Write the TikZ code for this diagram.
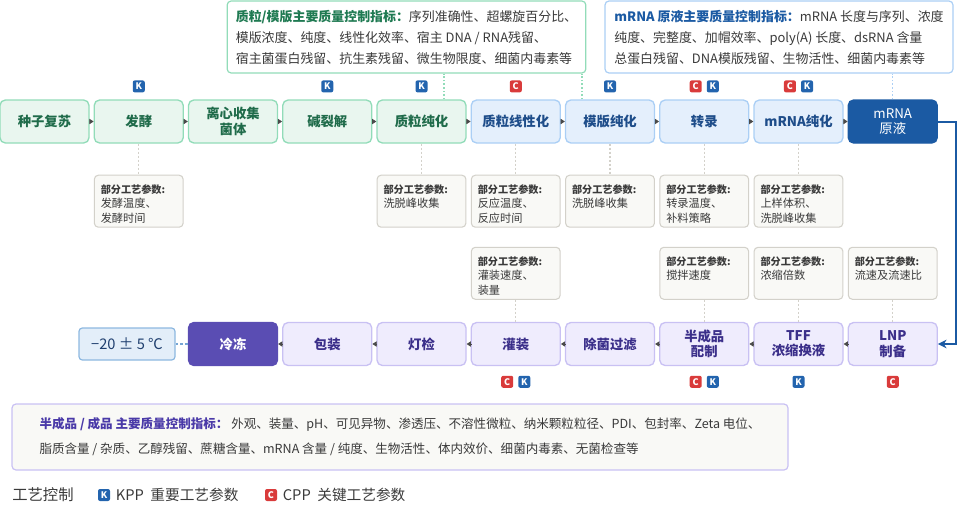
\documentclass[tikz,border=0pt]{standalone}
\usepackage{fontspec}
\setmainfont{Noto Sans CJK SC}
\usetikzlibrary{arrows.meta, positioning}
\definecolor{grnfill}{HTML}{E9F6EF}
\definecolor{grnline}{HTML}{92DCB9}
\definecolor{grntext}{HTML}{1F6B4A}
\definecolor{grntitle}{HTML}{1F7A52}
\definecolor{blufill}{HTML}{E4EFFC}
\definecolor{bluline}{HTML}{ABCFF5}
\definecolor{blutext}{HTML}{1E4D8A}
\definecolor{darkblu}{HTML}{1B5AA3}
\definecolor{purfill}{HTML}{EFECFD}
\definecolor{purline}{HTML}{C9C1F3}
\definecolor{purtext}{HTML}{3B2F8A}
\definecolor{purtitle}{HTML}{4A3AA8}
\definecolor{darkpur}{HTML}{5A4DB3}
\definecolor{parfill}{HTML}{F9F9F6}
\definecolor{parline}{HTML}{D3D1CA}
\definecolor{bodygray}{HTML}{3A3A3A}
\definecolor{arrgray}{HTML}{4A4A4A}
\definecolor{kblue}{HTML}{2364AE}
\definecolor{cred}{HTML}{D93B3B}
\definecolor{tempfill}{HTML}{E3EEF9}
\definecolor{templine}{HTML}{8DB8E0}
\definecolor{temptext}{HTML}{1F3F6F}
\newcommand\paramtext[1]{\parbox[c][37pt][t]{57pt}{\rule{0pt}{12.5pt}\textbf{\fontsize{7.6}{10.9}\selectfont 部分工艺参数:}\\#1}}

\begin{document}
\begin{tikzpicture}[x=0.75pt, y=-0.75pt,
  proc/.style={rounded corners=4pt, line width=1pt, minimum width=66.75pt,
    minimum height=32.25pt, align=center, inner sep=1pt,
    font=\bfseries\fontsize{10}{11.5}\selectfont},
  grn/.style={proc, fill=grnfill, draw=grnline, text=grntext},
  blu/.style={proc, fill=blufill, draw=bluline, text=blutext},
  pur/.style={proc, fill=purfill, draw=purline, text=purtext},
  param/.style={rounded corners=3pt, fill=parfill, draw=parline, line width=0.8pt,
    inner xsep=4.8pt, inner ysep=1pt, text=bodygray, font=\fontsize{8.4}{10.9}\selectfont},
  spec/.style={rounded corners=3pt, line width=0.9pt, align=left, text=bodygray,
    font=\fontsize{9.7}{15.75}\selectfont},
  badge/.style={rounded corners=1.5pt, minimum size=9pt, inner sep=0pt, text=white,
    font=\bfseries\fontsize{6.8}{6.8}\selectfont},
  kb/.style={badge, fill=kblue},
  cb/.style={badge, fill=cred},
  flow/.style={-{Triangle[length=3.2pt,width=4pt]}, draw=arrgray, line width=0.6pt},
  link/.style={-{Stealth[length=6.5pt,width=6.5pt]}, draw=darkblu, line width=1.5pt},
  dotgrn/.style={draw=grnline, line width=0.9pt, dash pattern=on 1.2pt off 1.5pt},
  dotblu/.style={draw=bluline, line width=0.9pt, dash pattern=on 1.2pt off 1.5pt},
  dotgray/.style={draw=parline, line width=0.8pt, dash pattern=on 1.5pt off 1.5pt}
]
\useasboundingbox (0,0) rectangle (960,504);

% quality specs
\node[spec, fill=white, draw=grnline, minimum width=269pt, minimum height=54pt] (specP) at (406.5,37)
  {\textcolor{grntitle}{\textbf{质粒/模版主要质量控制指标：}}序列准确性、超螺旋百分比、\\
   模版浓度、纯度、线性化效率、宿主 DNA / RNA残留、\\
   宿主菌蛋白残留、抗生素残留、微生物限度、细菌内毒素等};
\node[spec, fill=white, draw=bluline, minimum width=261pt, minimum height=54pt] (specM) at (779,37)
  {\textcolor{darkblu}{\textbf{mRNA 原液主要质量控制指标：}}mRNA 长度与序列、浓度\\
   纯度、完整度、加帽效率、poly(A) 长度、dsRNA 含量\\
   总蛋白残留、DNA模版残留、生物活性、细菌内毒素等};
\node[spec, fill=parfill, draw=purline, minimum width=582pt, minimum height=49.5pt,
  font=\fontsize{9.4}{18.75}\selectfont] (specF) at (400,437)
  {\textcolor{purtitle}{\textbf{半成品 / 成品 主要质量控制指标：}}\ 外观、装量、pH、可见异物、渗透压、不溶性微粒、纳米颗粒粒径、PDI、包封率、Zeta 电位、\\
   脂质含量 / 杂质、乙醇残留、蔗糖含量、mRNA 含量 / 纯度、生物活性、体内效价、细菌内毒素、无菌检查等};

% upstream row
\node[grn] (p1) at (44.5,121.5)   {种子复苏};
\node[grn] (p2) at (138.75,121.5) {发酵};
\node[grn] (p3) at (233,121.5)    {离心收集\\菌体};
\node[grn] (p4) at (327.25,121.5) {碱裂解};
\node[grn] (p5) at (421.5,121.5)  {质粒纯化};
\node[blu] (p6) at (515.75,121.5) {质粒线性化};
\node[blu] (p7) at (610,121.5)    {模版纯化};
\node[blu] (p8) at (704.25,121.5) {转录};
\node[blu] (p9) at (798.5,121.5)  {mRNA纯化};
\node[proc, fill=darkblu, draw=darkblu, text=white, font=\fontsize{10}{11.5}\selectfont] (p10) at (892.75,121.5) {mRNA\\原液};
\draw[flow] (p1) -- (p2);
\draw[flow] (p2) -- (p3);
\draw[flow] (p3) -- (p4);
\draw[flow] (p4) -- (p5);
\draw[flow] (p5) -- (p6);
\draw[flow] (p6) -- (p7);
\draw[flow] (p7) -- (p8);
\draw[flow] (p8) -- (p9);
\draw[flow] (p9) -- (p10);

% spec links
\draw[dotgrn] ([xshift=16.9pt]p5.north) -- ([xshift=16.9pt]p5.north |- specP.south);
\draw[dotgrn] ([xshift=-21pt]p7.north) -- ([xshift=-21pt]p7.north |- specP.south);
\draw[dotblu] (p10.north) -- (p10.north |- specM.south);

% badges, upstream
\node[kb, above=5pt of p2] (k2) {K};
\node[kb, above=5pt of p4] (k4) {K};
\node[kb, above=5pt of p5] (k5) {K};
\node[cb, above=5pt of p6] (c6) {C};
\node[kb, above=5pt of p7] (k7) {K};
\node[cb, above=5pt of p8, xshift=-6.4pt] (c8) {C};
\node[kb, above=5pt of p8, xshift=6.4pt] (k8) {K};
\node[cb, above=5pt of p9, xshift=-6.4pt] (c9) {C};
\node[kb, above=5pt of p9, xshift=6.4pt] (k9) {K};

% process parameters, upstream
\node[param, below=23.25pt of p2] (q2) {\paramtext{发酵温度、\\发酵时间}};
\node[param, below=23.25pt of p5] (q5) {\paramtext{洗脱峰收集}};
\node[param, below=23.25pt of p6] (q6) {\paramtext{反应温度、\\反应时间}};
\node[param, below=23.25pt of p7] (q7) {\paramtext{洗脱峰收集}};
\node[param, below=23.25pt of p8] (q8) {\paramtext{转录温度、\\补料策略}};
\node[param, below=23.25pt of p9] (q9) {\paramtext{上样体积、\\洗脱峰收集}};
\foreach \i in {2,5,6,7,8,9}
  \draw[dotgray] (p\i) -- (q\i);

% downstream row
\node[pur] (b8) at (892.75,344) {LNP\\制备};
\node[pur] (b7) at (798.5,344)  {TFF\\浓缩换液};
\node[pur] (b6) at (704.25,344) {半成品\\配制};
\node[pur] (b5) at (610,344)    {除菌过滤};
\node[pur] (b4) at (515.75,344) {灌装};
\node[pur] (b3) at (421.5,344)  {灯检};
\node[pur] (b2) at (327.25,344) {包装};
\node[proc, fill=darkpur, draw=darkpur, text=white] (b1) at (233,344) {冷冻};
\node[rounded corners=2.5pt, fill=tempfill, draw=templine, line width=0.9pt,
  minimum width=72pt, minimum height=24pt, text=temptext,
  font=\fontsize{11}{13}\selectfont] (temp) at (127,344) {−20 ± 5 ℃};
\draw[flow] (b8) -- (b7);
\draw[flow] (b7) -- (b6);
\draw[flow] (b6) -- (b5);
\draw[flow] (b5) -- (b4);
\draw[flow] (b4) -- (b3);
\draw[flow] (b3) -- (b2);
\draw[flow] (b2) -- (b1);
\draw[draw=templine!80!darkblu, line width=0.9pt, dash pattern=on 2pt off 1.5pt] (temp) -- (b1);
\draw[link] (p10.east) -- ++(13.5pt,0) |- (b8.east);

% process parameters, downstream
\node[param, above=16.5pt of b4] (r4) {\paramtext{灌装速度、\\装量}};
\node[param, above=16.5pt of b6] (r6) {\paramtext{搅拌速度}};
\node[param, above=16.5pt of b7] (r7) {\paramtext{浓缩倍数}};
\node[param, above=16.5pt of b8] (r8) {\paramtext{流速及流速比}};
\foreach \i in {4,6,7,8}
  \draw[dotgray] (r\i) -- (b\i);

% badges, downstream
\node[cb, below=7pt of b4, xshift=-6.4pt] (d4) {C};
\node[kb, below=7pt of b4, xshift=6.4pt] (e4) {K};
\node[cb, below=7pt of b6, xshift=-6.4pt] (d6) {C};
\node[kb, below=7pt of b6, xshift=6.4pt] (e6) {K};
\node[kb, below=7pt of b7] (e7) {K};
\node[cb, below=7pt of b8] (d8) {C};

% legend
\node[anchor=west, text=bodygray, font=\fontsize{11.5}{13}\selectfont, inner sep=0pt] (lg) at (12,495) {工艺控制};
\node[kb] (lk) at (104,495) {K};
\node[right=4pt of lk, inner sep=0pt, text=bodygray, font=\fontsize{11}{13}\selectfont] (lkt) {KPP\ \ 重要工艺参数};
\node[cb] (lc) at (271,495) {C};
\node[right=4pt of lc, inner sep=0pt, text=bodygray, font=\fontsize{11}{13}\selectfont] (lct) {CPP\ \ 关键工艺参数};
\end{tikzpicture}
\end{document}
